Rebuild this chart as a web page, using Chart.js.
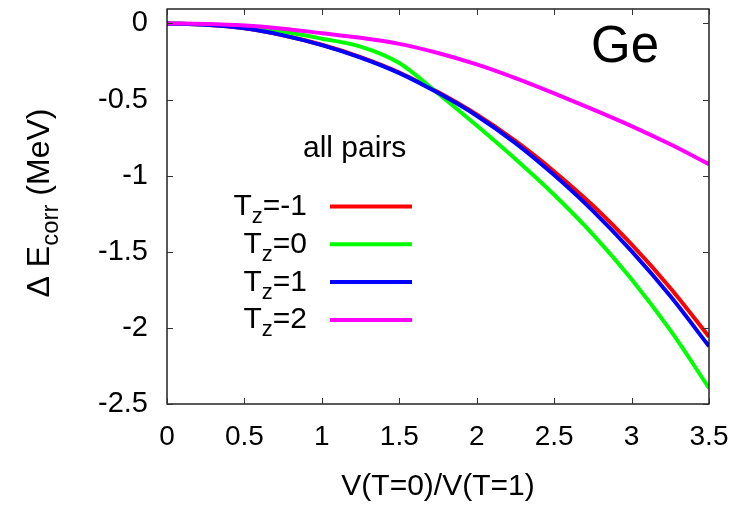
<!DOCTYPE html>
<html>
<head>
<meta charset="utf-8">
<script src="https://cdn.jsdelivr.net/npm/chart.js@4.4.1/dist/chart.umd.min.js"></script>
<style>
  html, body { margin: 0; padding: 0; background: #fff; }
  #wrap { width: 745px; height: 505px; }
</style>
</head>
<body>
<div id="wrap"><canvas id="c" width="745" height="505"></canvas></div>
<script>
// ---- data ----
const xVals = [0, 0.25, 0.5, 0.75, 1, 1.25, 1.5, 1.75, 2, 2.25, 2.5, 2.75, 3, 3.25, 3.5];
const tzMinus1 = [0, -0.008, -0.031, -0.077, -0.140, -0.221, -0.322, -0.451, -0.598, -0.772, -0.972, -1.196, -1.452, -1.738, -2.058];
const tz0      = [0, -0.006, -0.025, -0.055, -0.100, -0.152, -0.260, -0.460, -0.670, -0.890, -1.125, -1.385, -1.680, -2.015, -2.395];
const tz1      = [0, -0.008, -0.032, -0.078, -0.142, -0.224, -0.326, -0.456, -0.606, -0.786, -0.996, -1.231, -1.496, -1.791, -2.121];
const tz2      = [0, -0.003, -0.013, -0.034, -0.064, -0.094, -0.134, -0.194, -0.269, -0.359, -0.459, -0.564, -0.674, -0.794, -0.924];

const seriesNames = ['-1', '0', '1', '2'];
const seriesColors = ['#ff0000', '#00ff00', '#0000ff', '#ff00ff'];
const seriesValues = [tzMinus1, tz0, tz1, tz2];

const xTicks = [0, 0.5, 1, 1.5, 2, 2.5, 3, 3.5];
const xTickLabels = ['0', '0.5', '1', '1.5', '2', '2.5', '3', '3.5'];
const yTicks = [-2.5, -2, -1.5, -1, -0.5, 0];
const yTickLabels = ['-2.5', '-2', '-1.5', '-1', '-0.5', '0'];

const xTitle = 'V(T=0)/V(T=1)';
const panelLabel = 'Ge';
const legendTitle = 'all pairs';

const FONT = '"Liberation Sans", Arial, Helvetica, sans-serif';

const datasets = seriesValues.map((vals, i) => ({
  label: 'T_z=' + seriesNames[i],
  data: xVals.map((x, j) => ({ x: x, y: vals[j] })),
  borderColor: seriesColors[i],
  backgroundColor: seriesColors[i],
  borderWidth: 4,
  pointRadius: 0,
  fill: false,
  cubicInterpolationMode: 'monotone',
  order: seriesValues.length - i
}));

function txt(ctx, s, x, y, size, align) {
  ctx.font = size + 'px ' + FONT;
  ctx.textAlign = align || 'left';
  ctx.fillText(s, x, y);
}

const decor = {
  id: 'decor',
  afterDatasetsDraw(chart) {
    const ctx = chart.ctx;
    const a = chart.chartArea;
    const xs = chart.scales.x, ys = chart.scales.y;
    ctx.save();
    ctx.strokeStyle = '#000';
    ctx.lineWidth = 1.3;
    ctx.strokeRect(a.left, a.top, a.right - a.left, a.bottom - a.top);
    ctx.strokeStyle = '#333';
    ctx.lineWidth = 1;
    const tl = 6;
    xTicks.forEach(v => {
      const px = Math.round(xs.getPixelForValue(v)) + 0.5;
      ctx.beginPath();
      ctx.moveTo(px, a.bottom); ctx.lineTo(px, a.bottom - tl);
      ctx.moveTo(px, a.top); ctx.lineTo(px, a.top + tl);
      ctx.stroke();
    });
    yTicks.forEach(v => {
      const py = Math.round(ys.getPixelForValue(v)) + 0.5;
      ctx.beginPath();
      ctx.moveTo(a.left, py); ctx.lineTo(a.left + tl, py);
      ctx.moveTo(a.right, py); ctx.lineTo(a.right - tl, py);
      ctx.stroke();
    });
    ctx.restore();
  },
  afterDraw(chart) {
    const ctx = chart.ctx;
    ctx.save();
    ctx.fillStyle = '#000';
    ctx.textBaseline = 'alphabetic';

    txt(ctx, panelLabel, 591, 62, 51, 'left');
    txt(ctx, legendTitle, 303, 157, 30, 'left');

    const mainSize = 30, subSize = 22;
    const rightX = 307;
    const base0 = 215, step = 37.8;
    seriesNames.forEach((n, i) => {
      const by = base0 + i * step;
      ctx.font = mainSize + 'px ' + FONT;
      const wT = ctx.measureText('T').width;
      const rest = '=' + n;
      const wR = ctx.measureText(rest).width;
      ctx.font = subSize + 'px ' + FONT;
      const wZ = ctx.measureText('z').width;
      let x = rightX - (wT + wZ + wR);
      txt(ctx, 'T', x, by, mainSize); x += wT;
      txt(ctx, 'z', x, by + 8, subSize); x += wZ;
      txt(ctx, rest, x, by, mainSize);
      ctx.strokeStyle = seriesColors[i];
      ctx.lineWidth = 4;
      ctx.beginPath();
      ctx.moveTo(330, by - 8.5);
      ctx.lineTo(412, by - 8.5);
      ctx.stroke();
    });

    ctx.translate(49, 203);
    ctx.rotate(-Math.PI / 2);
    const ySize = 32, ySub = 24;
    const parts = [['\u0394 E', ySize, 0], ['corr', ySub, 9], [' (MeV)', ySize, 0]];
    let total = 0;
    parts.forEach(p => { ctx.font = p[1] + 'px ' + FONT; total += ctx.measureText(p[0]).width; });
    let cx = -total / 2;
    parts.forEach(p => {
      ctx.font = p[1] + 'px ' + FONT;
      ctx.textAlign = 'left';
      ctx.fillText(p[0], cx, p[2]);
      cx += ctx.measureText(p[0]).width;
    });
    ctx.restore();
  }
};

new Chart(document.getElementById('c'), {
  type: 'line',
  data: { datasets: datasets },
  options: {
    responsive: false,
    animation: false,
    devicePixelRatio: 1,
    layout: { padding: { left: 0, top: 9, right: 36, bottom: 0 } },
    plugins: { legend: { display: false }, tooltip: { enabled: false }, title: { display: false } },
    scales: {
      x: {
        type: 'linear',
        min: 0, max: 3.5,
        afterBuildTicks: s => { s.ticks = xTicks.map(v => ({ value: v })); },
        afterFit: s => { s.height = 101; s.paddingLeft = 0; s.paddingRight = 0; },
        grid: { display: false, drawTicks: false },
        border: { display: false },
        ticks: {
          color: '#000',
          font: { family: FONT, size: 28 },
          padding: 16,
          maxRotation: 0,
          autoSkip: false,
          callback: (v, i) => xTickLabels[i]
        },
        title: {
          display: true,
          text: xTitle,
          color: '#000',
          font: { family: FONT, size: 30 },
          padding: { top: 0, bottom: 0 }
        }
      },
      y: {
        type: 'linear',
        min: -2.5, max: 0.095,
        afterBuildTicks: s => { s.ticks = yTicks.map(v => ({ value: v })); },
        afterFit: s => { s.width = 167; s.paddingTop = 0; s.paddingBottom = 0; },
        grid: { display: false, drawTicks: false },
        border: { display: false },
        ticks: {
          color: '#000',
          font: { family: FONT, size: 29 },
          padding: 19,
          autoSkip: false,
          callback: (v, i) => yTickLabels[i]
        }
      }
    }
  },
  plugins: [decor]
});
</script>
</body>
</html>
